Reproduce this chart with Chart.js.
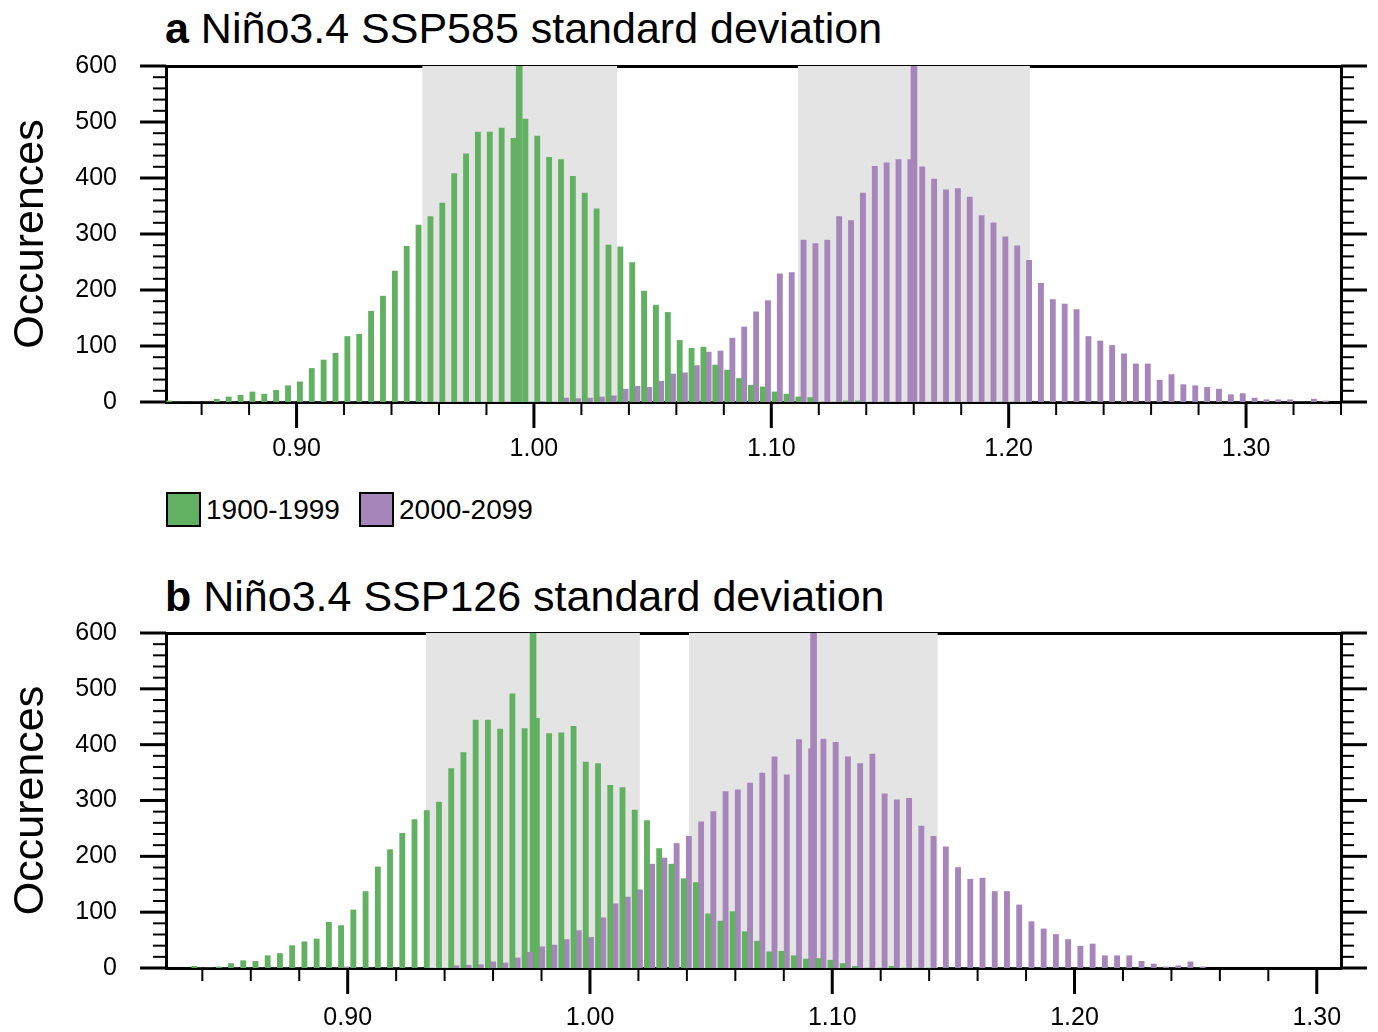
<!DOCTYPE html>
<html>
<head>
<meta charset="utf-8">
<script src="https://cdn.jsdelivr.net/npm/chart.js@4.4.0/dist/chart.umd.min.js"></script>
<style>
  html, body { margin: 0; padding: 0; background: #fff; }
  body { width: 1378px; height: 1032px; position: relative; overflow: hidden;
         font-family: "Liberation Sans", Arial, Helvetica, sans-serif; color: #000; }
  .title { position: absolute; left: 165px; font-size: 43px; line-height: 43px; white-space: nowrap; }
  .cv { position: absolute; left: 0; }
  .lg-item { position: absolute; top: 492px; height: 35px; display: flex; align-items: center; }
  .lg-box { width: 35px; height: 35px; box-sizing: border-box; border: 2px solid #000; }
  .lg-text { font-size: 28px; line-height: 35px; margin-left: 5px; white-space: nowrap; }
</style>
</head>
<body>
<div class="title" id="titleA" style="top:7px"></div>
<div class="title" id="titleB" style="top:575px"></div>
<canvas id="ca" class="cv" style="top:0px" width="1378" height="480"></canvas>
<div id="legend"></div>
<canvas id="cb" class="cv" style="top:552px" width="1378" height="480"></canvas>
<script>
// ---------------- DATA ----------------
const seriesNames = ['1900-1999', '2000-2099'];
const panelLetters = ['a', 'b'];
const panelTitles = ['Niño3.4 SSP585 standard deviation', 'Niño3.4 SSP126 standard deviation'];
const yAxisTitle = 'Occurences';
const yTickLabels = [0, 100, 200, 300, 400, 500, 600];
const xTickLabelsA = ['0.90', '1.00', '1.10', '1.20', '1.30'];
const xTickLabelsB = ['0.90', '1.00', '1.10', '1.20', '1.30'];

// Panel a bin centres
const binsA = [
  0.8475,0.8525,0.8575,0.8625,0.8675,0.8725,0.8775,0.8825,0.8875,0.8925,
  0.8975,0.9025,0.9075,0.9125,0.9175,0.9225,0.9275,0.9325,0.9375,0.9425,
  0.9475,0.9525,0.9575,0.9625,0.9675,0.9725,0.9775,0.9825,0.9875,0.9925,
  0.9975,1.0025,1.0075,1.0125,1.0175,1.0225,1.0275,1.0325,1.0375,1.0425,
  1.0475,1.0525,1.0575,1.0625,1.0675,1.0725,1.0775,1.0825,1.0875,1.0925,
  1.0975,1.1025,1.1075,1.1125,1.1175,1.1225,1.1275,1.1325,1.1375,1.1425,
  1.1475,1.1525,1.1575,1.1625,1.1675,1.1725,1.1775,1.1825,1.1875,1.1925,
  1.1975,1.2025,1.2075,1.2125,1.2175,1.2225,1.2275,1.2325,1.2375,1.2425,
  1.2475,1.2525,1.2575,1.2625,1.2675,1.2725,1.2775,1.2825,1.2875,1.2925,
  1.2975,1.3025,1.3075,1.3125,1.3175,1.3225,1.3275,1.3325
];
const greenA = [
  2,0,0,0,5,9,12,18,14,21,
  29,36,60,75,87,117,121,162,189,234,
  278,316,331,355,408,443,482,482,489,471,
  505,475,437,433,403,373,345,280,277,249,
  198,173,160,110,96,98,66,57,42,30,
  27,18,14,9,8,0,0,2,2,0,
  0,0,0,0,0,0,0,0,0,0,
  0,0,0,0,0,0,0,0,0,0,
  0,0,0,0,0,0,0,0,0,0,
  0,0,0,0,0,0,0,0
];
const purpleA = [
  0,0,0,0,0,0,0,0,0,0,
  0,0,0,0,0,0,0,0,0,0,
  0,0,0,0,0,0,0,0,0,0,
  0,1,0,7,6,7,9,11,23,28,
  26,37,50,52,65,89,91,114,134,161,
  181,229,231,289,283,289,331,324,373,421,
  427,433,433,420,398,379,381,366,333,320,
  295,279,253,212,183,175,165,117,109,101,
  86,68,68,39,49,31,29,26,23,13,
  15,7,4,4,4,0,5,2
];
const meansA = [0.9938, 1.1601];
const shadeA = [[0.9530, 1.0350], [1.1112, 1.2089]];

// Panel b bin centres
const binsB = [
  0.83775,0.84280,0.84785,0.85290,0.85795,0.86300,0.86805,0.87310,0.87815,0.88320,
  0.88825,0.89330,0.89835,0.90340,0.90845,0.91350,0.91855,0.92360,0.92865,0.93370,
  0.93875,0.94380,0.94885,0.95390,0.95895,0.96400,0.96905,0.97410,0.97915,0.98420,
  0.98925,0.99430,0.99935,1.00440,1.00945,1.01450,1.01955,1.02460,1.02965,1.03470,
  1.03975,1.04480,1.04985,1.05490,1.05995,1.06500,1.07005,1.07510,1.08015,1.08520,
  1.09025,1.09530,1.10035,1.10540,1.11045,1.11550,1.12055,1.12560,1.13065,1.13570,
  1.14075,1.14580,1.15085,1.15590,1.16095,1.16600,1.17105,1.17610,1.18115,1.18620,
  1.19125,1.19630,1.20135,1.20640,1.21145,1.21650,1.22155,1.22660,1.23165,1.23670,
  1.24175,1.24680,1.25185
];
const greenB = [
  3,0,2,8,13,12,22,26,40,47,
  52,82,76,104,137,181,212,241,266,282,
  297,357,386,444,444,428,491,429,447,420,
  421,433,369,366,327,323,283,264,214,186,
  160,153,97,84,101,65,48,29,30,22,
  16,17,14,8,3,0,0,3,0,0,
  0,0,0,0,0,0,0,0,0,0,
  0,0,0,0,0,0,0,0,0,0,
  0,0,0
];
const purpleB = [
  0,0,0,0,0,0,0,0,0,0,
  0,0,2,0,0,0,0,0,0,0,
  0,4,5,6,11,9,18,28,38,41,
  51,67,55,90,115,127,140,186,197,223,
  236,262,280,316,319,331,349,378,346,409,
  393,410,404,378,366,383,312,301,304,254,
  236,217,180,159,161,137,137,113,83,70,
  60,51,39,43,22,22,22,12,7,2,
  4,11,2
];
const meansB = [0.9765, 1.0923];
const shadeB = [[0.9323, 1.0206], [1.0409, 1.1435]];

// axis ranges
const xRangeA = [0.845, 1.34];
const xRangeB = [0.825, 1.31];
const yRange = [0, 600];
const spikeHeight = 600;

// ---------------- STYLE ----------------
const GREEN = '#62b163';
const PURPLE = '#a685ba';
const SHADE = '#e4e4e4';
const FONT = '"Liberation Sans", Arial, Helvetica, sans-serif';
Chart.defaults.font.family = FONT;
Chart.defaults.color = '#000';

// Titles (real text)
[['titleA', 0], ['titleB', 1]].forEach(([id, i]) => {
  const el = document.getElementById(id);
  const b = document.createElement('b'); b.textContent = panelLetters[i];
  el.appendChild(b);
  el.appendChild(document.createTextNode(' ' + panelTitles[i]));
});

// Legend (real text)
const legendX = [166, 359];
const legendColors = [GREEN, PURPLE];
const lg = document.getElementById('legend');
seriesNames.forEach((name, i) => {
  const it = document.createElement('div'); it.className = 'lg-item'; it.style.left = legendX[i] + 'px';
  const bx = document.createElement('div'); bx.className = 'lg-box'; bx.style.background = legendColors[i];
  const tx = document.createElement('div'); tx.className = 'lg-text'; tx.textContent = name;
  it.appendChild(bx); it.appendChild(tx); lg.appendChild(it);
});

// Plugins
const shadePlugin = {
  id: 'shade',
  beforeDatasetsDraw(chart, args, o) {
    const {ctx, chartArea: a, scales: {x}} = chart;
    ctx.save();
    ctx.fillStyle = SHADE;
    (o.ranges || []).forEach(([s, e]) => {
      const p1 = x.getPixelForValue(s), p2 = x.getPixelForValue(e);
      ctx.fillRect(p1, a.top, p2 - p1, a.bottom - a.top);
    });
    ctx.restore();
  }
};
const tickPlugin = {
  id: 'frameTicks',
  afterDraw(chart, args, o) {
    const {ctx, chartArea: a, scales: {x, y}} = chart;
    ctx.save();
    ctx.strokeStyle = '#000';
    ctx.lineCap = 'butt';
    const line = (x1, y1, x2, y2, w) => { ctx.lineWidth = w; ctx.beginPath(); ctx.moveTo(x1, y1); ctx.lineTo(x2, y2); ctx.stroke(); };
    for (let v = yRange[0]; v <= yRange[1]; v += 20) {
      const p = y.getPixelForValue(v);
      const major = yTickLabels.includes(v);
      const L = major ? 26 : 13, w = major ? 3 : 2;
      line(a.left - L, p, a.left, p, w);
      line(a.right, p, a.right + L, p, w);
    }
    const n = Math.round((o.xEnd - o.xStart) / 0.02);
    for (let i = 0; i <= n; i++) {
      const v = Math.round((o.xStart + i * 0.02) * 1000) / 1000;
      const major = o.majors.some(m => Math.abs(m - v) < 1e-6);
      const p = x.getPixelForValue(v);
      line(p, a.bottom, p, a.bottom + (major ? 26 : 13), major ? 3 : 2);
    }
    ctx.restore();
  }
};

function makeChart(canvasId, bins, green, purple, means, shade, xRange, xLabels, padTop, xHeight, xPad, xStart, xEnd) {
  const ds = [
    { label: seriesNames[0], data: bins.map((b, i) => ({x: b, y: green[i]})), backgroundColor: GREEN,
      barThickness: 5.2, grouped: true, borderWidth: 0 },
    { label: seriesNames[1], data: bins.map((b, i) => ({x: b, y: purple[i]})), backgroundColor: PURPLE,
      barThickness: 5.2, grouped: true, borderWidth: 0 },
    { label: 'mean ' + seriesNames[0], data: [{x: means[0], y: spikeHeight}], backgroundColor: GREEN,
      barThickness: 6, grouped: false, borderWidth: 0 },
    { label: 'mean ' + seriesNames[1], data: [{x: means[1], y: spikeHeight}], backgroundColor: PURPLE,
      barThickness: 6, grouped: false, borderWidth: 0 }
  ];
  const xTickVals = xLabels.map(Number);
  const tickFont = {size: 25, family: FONT};
  return new Chart(document.getElementById(canvasId), {
    type: 'bar',
    data: { datasets: ds },
    options: {
      responsive: false, animation: false, devicePixelRatio: 1, events: [],
      layout: { padding: { top: padTop, left: 0, right: 0, bottom: 0 } },
      plugins: {
        legend: { display: false }, tooltip: { enabled: false }, title: { display: false },
        shade: { ranges: shade },
        frameTicks: { xStart, xEnd, majors: xTickVals }
      },
      scales: {
        x: {
          type: 'linear', position: 'bottom', min: xRange[0], max: xRange[1], offset: false,
          afterBuildTicks: s => { s.ticks = xTickVals.map(v => ({value: v})); },
          afterFit: s => { s.height = xHeight; },
          ticks: { autoSkip: false, maxRotation: 0, padding: xPad, font: tickFont, color: '#000',
                   callback: v => Number(v).toFixed(2) },
          grid: { display: false, drawTicks: false, offset: false },
          border: { display: true, width: 3, color: '#000' }
        },
        x2: {
          type: 'linear', position: 'top', min: xRange[0], max: xRange[1], offset: false,
          afterFit: s => { s.height = 0; },
          ticks: { display: false },
          grid: { display: false, drawTicks: false },
          border: { display: true, width: 3, color: '#000' }
        },
        y: {
          type: 'linear', position: 'left', min: yRange[0], max: yRange[1],
          afterBuildTicks: s => { s.ticks = yTickLabels.map(v => ({value: v})); },
          afterFit: s => { s.width = 166; },
          ticks: { padding: 49, font: tickFont, color: '#000' },
          grid: { display: false, drawTicks: false },
          border: { display: true, width: 3, color: '#000' },
          title: { display: true, text: yAxisTitle, font: {size: 43, family: FONT}, color: '#000',
                   padding: {top: 5, bottom: 0} }
        },
        y2: {
          type: 'linear', position: 'right', min: yRange[0], max: yRange[1],
          afterFit: s => { s.width = 37; },
          ticks: { display: false },
          grid: { display: false, drawTicks: false },
          border: { display: true, width: 3, color: '#000' }
        }
      }
    },
    plugins: [shadePlugin, tickPlugin]
  });
}

makeChart('ca', binsA, greenA, purpleA, meansA, shadeA, xRangeA, xTickLabelsA, 66, 78, 32, 0.86, 1.34);
makeChart('cb', binsB, greenB, purpleB, meansB, shadeB, xRangeB, xTickLabelsB, 81, 64, 35, 0.84, 1.30);
</script>
</body>
</html>
